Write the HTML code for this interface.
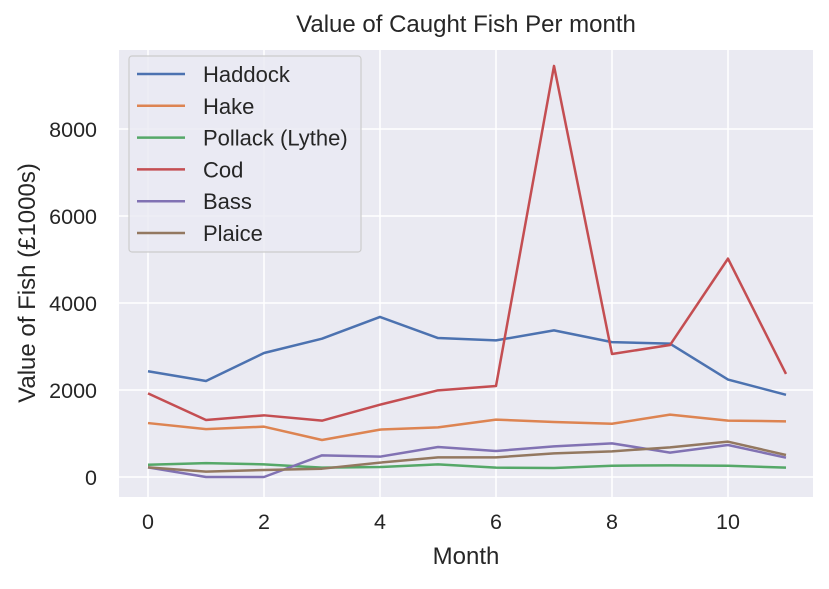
<!DOCTYPE html>
<html><head><meta charset="utf-8"><style>
body{margin:0;background:#fff;font-family:"Liberation Sans","DejaVu Sans",sans-serif}
</style></head><body>
<svg id="chart" width="829" height="584" xmlns="http://www.w3.org/2000/svg" font-family="Liberation Sans, DejaVu Sans, sans-serif">
<rect x="119" y="50" width="694" height="447" fill="#eaeaf2"/>
<g id="grid"></g>
<g id="series"></g>
<g id="ticks"></g>
<text x="466" y="32" font-size="24" text-anchor="middle" fill="#262626">Value of Caught Fish Per month</text>
<text x="466" y="564" font-size="24" text-anchor="middle" fill="#262626">Month</text>
<text transform="translate(35,283) rotate(-90)" font-size="24" text-anchor="middle" fill="#262626">Value of Fish (£1000s)</text>
<g id="legend"></g>
</svg>
<script>
const months=[0,1,2,3,4,5,6,7,8,9,10,11];
const seriesNames=["Haddock","Hake","Pollack (Lythe)","Cod","Bass","Plaice"];
const colors=["#4c72b0","#dd8452","#55a868","#c44e52","#8172b3","#937860"];
const haddock=[2430,2207,2850,3180,3680,3195,3140,3370,3100,3065,2240,1890];
const hake=[1240,1100,1157,850,1090,1140,1320,1265,1225,1433,1295,1280];
const pollack=[283,320,290,215,230,290,215,207,260,268,260,215];
const cod=[1923,1310,1418,1295,1663,1992,2092,9450,2828,3034,5020,2368];
const bass=[222,0,0,498,467,690,598,705,774,560,736,444];
const plaice=[222,123,161,191,330,452,452,544,590,682,812,506];
const xTicks=[0,2,4,6,8,10];
const yTicks=[0,2000,4000,6000,8000];
const all=[haddock,hake,pollack,cod,bass,plaice];
const NS="http://www.w3.org/2000/svg";
const X=v=>148+v*58, Y=v=>477-v*0.0435;
function mk(t,a,p){const e=document.createElementNS(NS,t);for(const k in a)e.setAttribute(k,a[k]);p.appendChild(e);return e;}
const g=document.getElementById('grid'),tk=document.getElementById('ticks');
xTicks.forEach(v=>{const l=mk('line',{x1:X(v),x2:X(v),y1:50,y2:497,stroke:'#fff','stroke-width':1.5},g);


const t=mk('text',{x:X(v),y:529,'font-size':21.5,'text-anchor':'middle',fill:'#262626'},tk);t.textContent=v;

});
yTicks.forEach(v=>{const l=mk('line',{x1:119,x2:813,y1:Y(v),y2:Y(v),stroke:'#fff','stroke-width':1.5},g);


const t=mk('text',{x:97,y:Y(v)+8,'font-size':21.5,'text-anchor':'end',fill:'#262626'},tk);t.textContent=v;

});
const s=document.getElementById('series');
all.forEach((d,i)=>{const p=mk('polyline',{points:d.map((v,j)=>X(months[j])+','+Y(v)).join(' '),fill:'none',stroke:colors[i],'stroke-width':2.5,'stroke-linejoin':'round'},s);

});
const lg=document.getElementById('legend');
const box=mk('rect',{x:129,y:56,width:232,height:196,rx:3,fill:'#eaeaf2',stroke:'#cccccc','stroke-width':1.2,'fill-opacity':0.8},lg);


seriesNames.forEach((n,i)=>{const y=74+i*31.8;
mk('line',{x1:137,x2:185,y1:y,y2:y,stroke:colors[i],'stroke-width':2.5},lg);
const t=mk('text',{x:203,y:y+8,'font-size':22,fill:'#262626'},lg);t.textContent=n;

});
</script>
</body></html>
